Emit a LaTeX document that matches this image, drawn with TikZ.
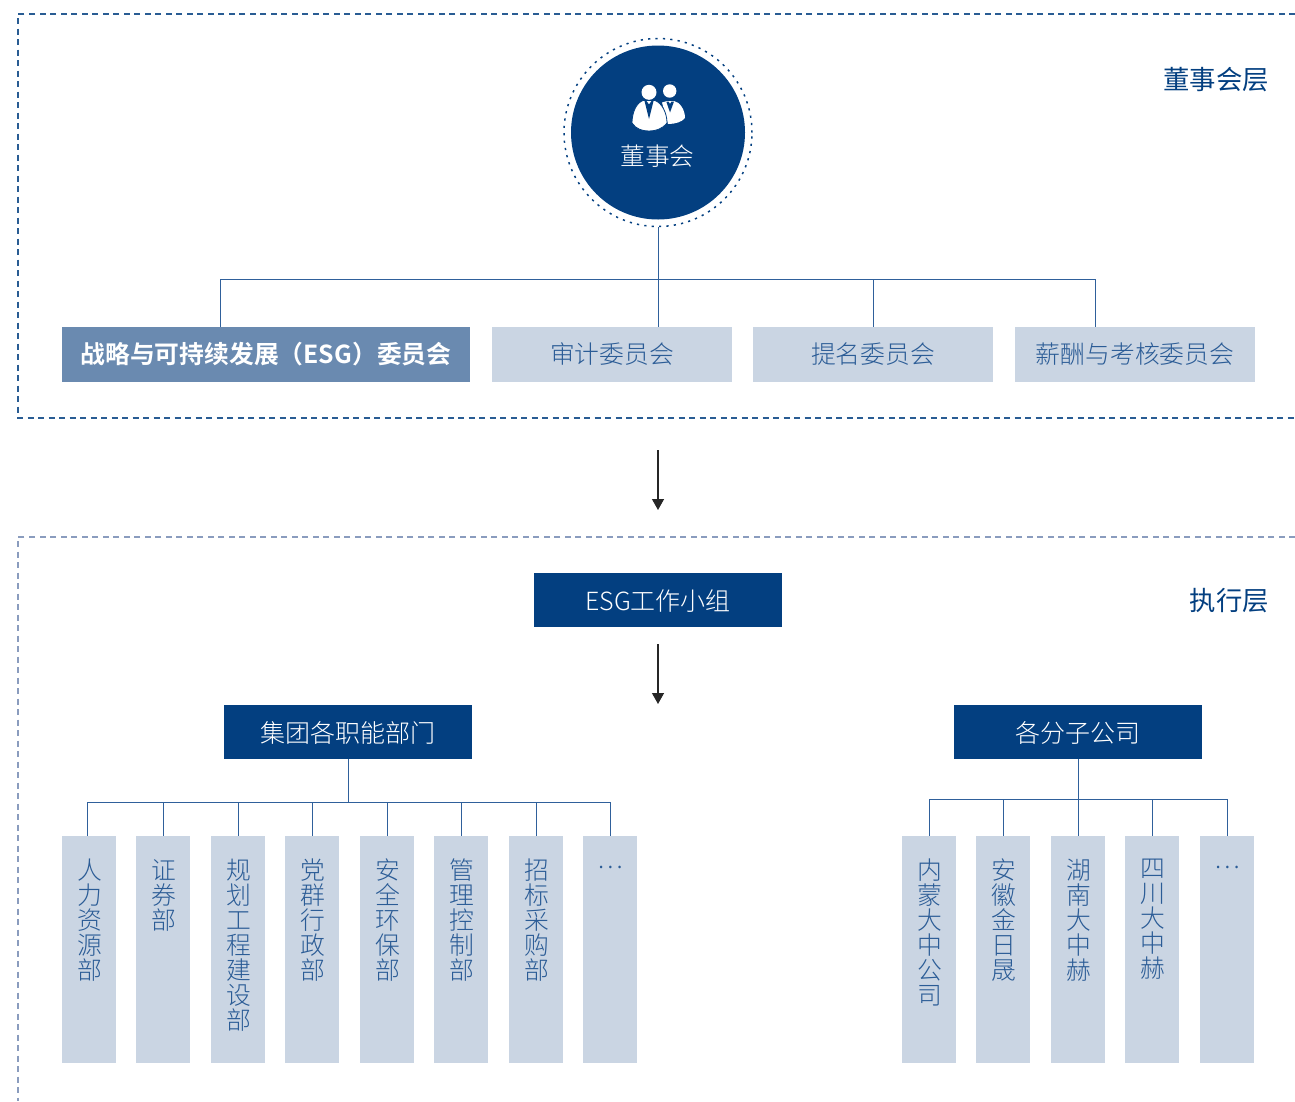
\documentclass[tikz,border=0pt]{standalone}
\usepackage{fontspec}
\setmainfont{Noto Sans CJK SC Light}[BoldFont=Noto Sans CJK SC Bold]
\newfontfamily\layerfont{Noto Sans CJK SC}
\XeTeXlinebreaklocale "zh"
\XeTeXlinebreakskip=0pt plus 1pt
\usetikzlibrary{arrows.meta}
\definecolor{navy}{HTML}{033F80}
\definecolor{midblue}{HTML}{6A8AB0}
\definecolor{paleblue}{HTML}{CAD5E3}
\definecolor{inkblue}{HTML}{2B5C96}
\definecolor{linkblue}{HTML}{2F609B}
\definecolor{framelow}{HTML}{8A9CBE}
\tikzset{
	darkbox/.style = {rectangle, fill=navy, text=white, minimum width=248, minimum height=54,
		inner sep=0pt, text height=22, text depth=2, font=\fontsize{25}{25}\selectfont},
	wardbox/.style = {rectangle, fill=paleblue, text=inkblue, minimum height=55,
		inner sep=0pt, text height=21, text depth=3, font=\fontsize{24.8}{24.8}\selectfont},
	colbox/.style = {rectangle, fill=paleblue, minimum width=54, minimum height=226.5, inner sep=0pt},
	coltext/.style = {text=inkblue, text width=27, align=center, inner sep=0pt, anchor=north,
		xshift=0.5pt, font=\fontsize{24.8}{25}\selectfont},
	layertext/.style = {text=navy, anchor=east, inner sep=0pt, font=\fontsize{26.4}{26.4}\layerfont},
	link/.style = {draw=linkblue, line width=1pt},
	flow/.style = {draw=black!85, line width=1.3pt, -{Triangle[length=11pt,width=12pt]}}
}
\begin{document}
\begin{tikzpicture}[x=1pt,y=-1pt]
	\useasboundingbox (0,0) rectangle (1295,1101);

	% Frames
	\draw[navy!85, line width=1.4pt, dash pattern=on 6pt off 4.5pt] (1295,14) -- (18,14) -- (18,418) -- (1295,418);
	\draw[framelow, line width=1.4pt, dash pattern=on 6pt off 4.5pt] (1295,537) -- (18,537) -- (18,1101);
	\node[layertext] (boardlayer) at (1269,79.5) {董事会层};
	\node[layertext] (execlayer) at (1269,600.5) {执行层};

	% Board
	\node[circle, draw=navy, line width=1.5pt, dash pattern=on 2.2pt off 5.2pt, minimum size=188, inner sep=0pt] (ring) at (658,132.5) {};
	\node[circle, fill=navy, minimum size=174, inner sep=0pt] (board) at (658,132.5) {};
	\node[text=white, inner sep=0pt, font=\fontsize{24.7}{24.7}\selectfont] (boardtext) at (657.5,156) {董事会};

	% Icon
	\fill[white] (669.7,91) circle (6.7);
	\fill[white] (662,102.5) .. controls (665,101) .. (667,101) -- (674,101) .. controls (680,102) and (685,110) .. (685,118) .. controls (682,122) and (675,124) .. (668,124) -- cycle;
	\fill[navy] (666.3,101.5) -- (670,112.5) -- (674,101.5) -- (671.5,101.5) -- (670,104) -- (668.5,101.5) -- cycle;
	\fill[white] (649,92.3) circle (7.5);
	\filldraw[white, draw=navy, line width=0.8pt] (643,100.5) -- (655,100.5) .. controls (662,103) and (667,113) .. (667,123) .. controls (662,129) and (656,131) .. (649,131) .. controls (642,131) and (636,129) .. (632,123) .. controls (632,113) and (636,103) .. cycle;
	\fill[navy] (644.5,101) -- (649,119) -- (653.5,101) -- (651.5,101) -- (649,104.5) -- (646.5,101) -- cycle;

	% Committees
	\node[wardbox, fill=midblue, text=white, font=\fontsize{24.8}{24.8}\selectfont\bfseries, minimum width=408] (strategy) at (266,354.5) {战略与可持续发展（ESG）委员会};
	\node[wardbox, minimum width=240] (audit) at (612,354.5) {审计委员会};
	\node[wardbox, minimum width=240] (nomination) at (873,354.5) {提名委员会};
	\node[wardbox, minimum width=240] (salary) at (1135,354.5) {薪酬与考核委员会};

	% Board links
	\coordinate (busA) at (220,279);
	\coordinate (busB) at (1095,279);
	\draw[link] (busA) -- (busB);
	\draw[link] (ring.south) -- (ring.south |- audit.north);
	\draw[link] (busA) -- (busA |- strategy.north);
	\draw[link] (nomination.north |- busA) -- (nomination.north);
	\draw[link] (busB) -- (busB |- salary.north);

	% Working group
	\coordinate (flowA) at (658,450);
	\coordinate (flowB) at (658,510);
	\draw[flow] (flowA) -- (flowB);
	\node[darkbox] (esg) at (658,600) {ESG工作小组};
	\coordinate (flowC) at (658,704);
	\draw[flow] (658,644) -- (flowC);
	\node[darkbox] (dept) at (348,732) {集团各职能部门};
	\node[darkbox] (subs) at (1078,732) {各分子公司};

	% Departments
	\draw[link] (dept.south) -- (348,802);
	\draw[link] (87,802) -- (610,802);
	\foreach \n/\x/\d/\y/\t in {d1/89/87/859/人力资源部, d2/163/163/859/证券部, d3/238/238/859/规划工程建设部, d4/312/312/859/党群行政部,
		d5/387/387/859/安全环保部, d6/461/461/859/管理控制部, d7/536/536/859/招标采购部, d8/610/610/866/…}{
		\node[colbox, anchor=north] (\n) at (\x,836) {};
		\node[coltext] (\n text) at (\x,\y) {\t};
		\draw[link] (\d,802) -- (\d,836);
	}

	% Subsidiaries
	\draw[link] (subs.south) -- (1078,799);
	\draw[link] (929,799) -- (1227,799);
	\foreach \n/\x/\y/\t in {s1/929/859/内蒙大中公司, s2/1003/859/安徽金日晟, s3/1078/859/湖南大中赫, s4/1152/859/四川大中赫, s5/1227/866/…}{
		\node[colbox, anchor=north] (\n) at (\x,836) {};
		\node[coltext] (\n text) at (\x,\y) {\t};
		\draw[link] (\x,799) -- (\n.north);
	}
\end{tikzpicture}
\end{document}
